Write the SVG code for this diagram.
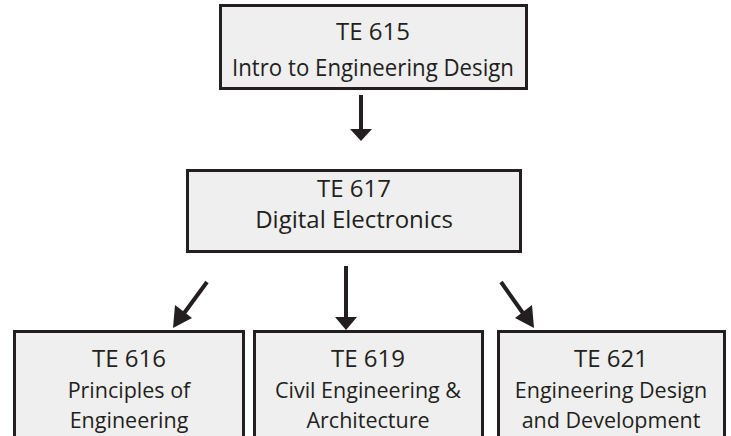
<svg xmlns="http://www.w3.org/2000/svg" width="731" height="436" viewBox="0 0 731 436">
<defs>
<style>
.box{fill:#efefef;stroke:#231f20;stroke-width:3}
.t{font-family:"Open Sans","Liberation Sans",sans-serif;fill:#231f20;text-anchor:middle}
.big{font-size:24px}
.sm{font-size:21.5px}
.ln{stroke:#231f20;stroke-width:4;fill:none}
.hd{fill:#231f20}
</style>
</defs>
<rect width="731" height="436" fill="#ffffff"/>
<g id="te615">
<rect class="box" x="220.5" y="5.5" width="306" height="83"/>
<text class="t big" x="373" y="40">TE 615</text>
<text class="t big" x="373" y="76" textLength="282" lengthAdjust="spacingAndGlyphs">Intro to Engineering Design</text>
</g>
<g id="te617">
<rect class="box" x="187.5" y="170.5" width="333" height="81"/>
<text class="t big" x="354" y="197">TE 617</text>
<text class="t big" x="354" y="228">Digital Electronics</text>
</g>
<g id="te616">
<rect class="box" x="14.5" y="331.5" width="229" height="120"/>
<text class="t big" x="129" y="367">TE 616</text>
<text class="t sm" x="129" y="398">Principles of</text>
<text class="t sm" x="129" y="428">Engineering</text>
</g>
<g id="te619">
<rect class="box" x="254.5" y="331.5" width="228" height="120"/>
<text class="t big" x="368" y="367">TE 619</text>
<text class="t sm" x="368" y="398">Civil Engineering &amp;</text>
<text class="t sm" x="368" y="428">Architecture</text>
</g>
<g id="te621">
<rect class="box" x="498.5" y="331.5" width="226" height="120"/>
<text class="t big" x="611" y="367">TE 621</text>
<text class="t sm" x="611" y="398">Engineering Design</text>
<text class="t sm" x="611" y="428">and Development</text>
</g>
<g id="connectors">
<line class="ln" x1="361" y1="95" x2="361" y2="130"/>
<polygon class="hd" points="350,129 372,129 361,141"/>
<line class="ln" x1="346" y1="266" x2="346" y2="318"/>
<polygon class="hd" points="335,317 357,317 346,330"/>
<line class="ln" x1="207" y1="282" x2="182" y2="316"/>
<polygon class="hd" points="173,328 175,305 192,318"/>
<line class="ln" x1="501" y1="282" x2="525" y2="316"/>
<polygon class="hd" points="534,328 515,318 532,305"/>
</g>
</svg>
